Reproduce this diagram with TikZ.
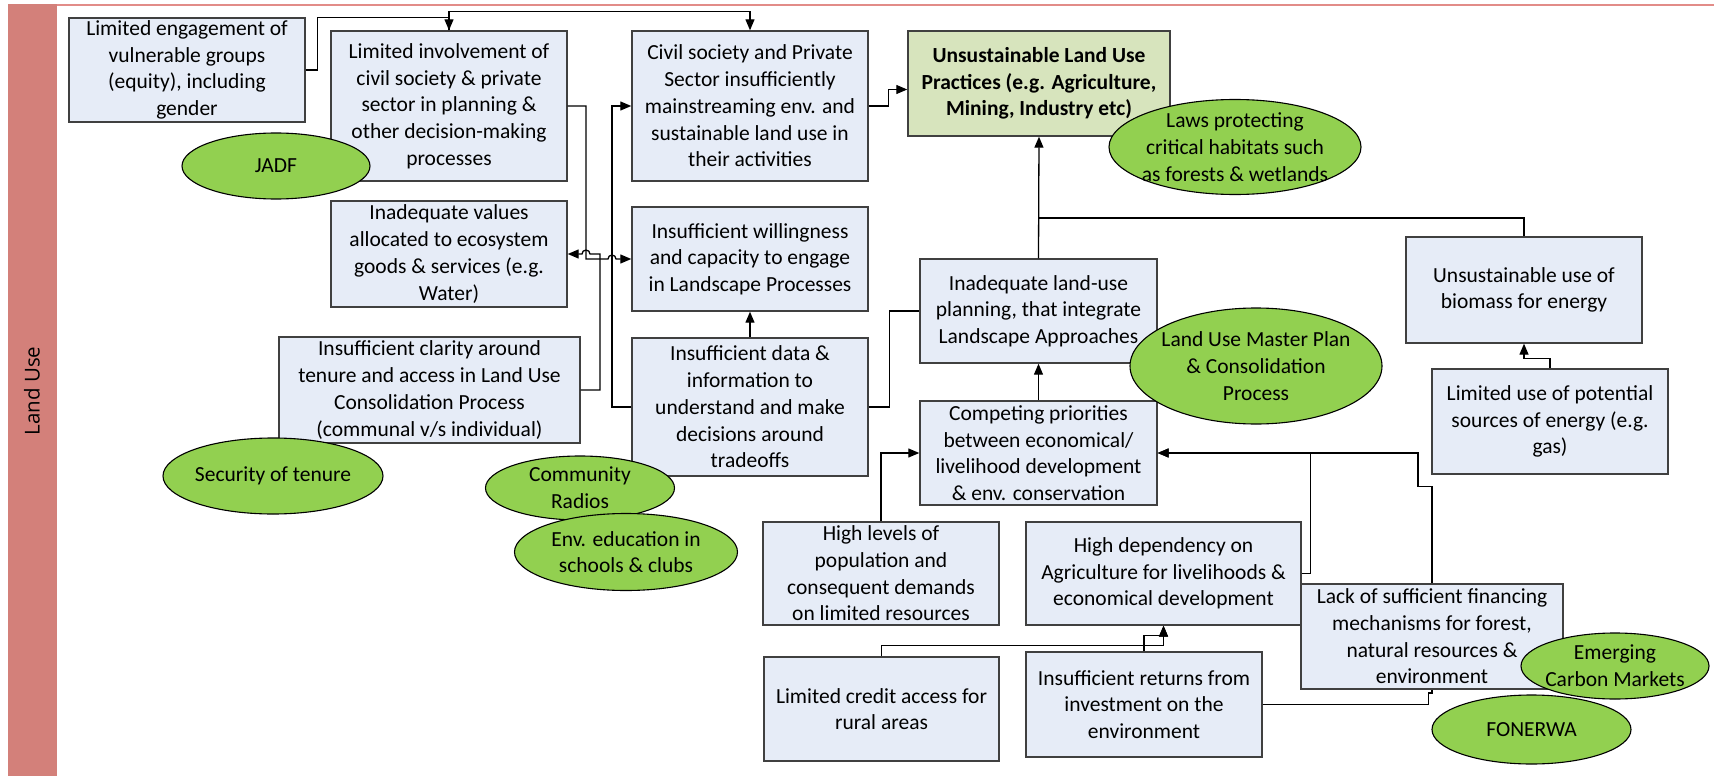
\documentclass[tikz,border=0pt]{standalone}
\usepackage{fontspec}
\setmainfont{Carlito}
\newfontfamily\bandfont{Open Sans}
\usetikzlibrary{arrows.meta,shapes.geometric}

\definecolor{boxfill}{RGB}{230,236,247}
\definecolor{boxline}{RGB}{64,64,64}
\definecolor{corefill}{RGB}{215,228,189}
\definecolor{ovalfill}{RGB}{146,208,80}
\definecolor{bandfill}{RGB}{211,128,122}
\definecolor{bandline}{RGB}{226,140,136}

\newcommand\bodysize{\fontsize{21.5}{26.7}\selectfont}

\begin{document}
\begin{tikzpicture}[x=1pt,y=-1pt,
  box/.style={rectangle, draw=boxline, line width=1.4pt, fill=boxfill, inner sep=0pt},
  core/.style={box, fill=corefill},
  oval/.style={ellipse, draw=black, line width=1.1pt, fill=ovalfill, inner sep=0pt},
  txt/.style={align=center, font=\bodysize, inner sep=0pt, text=black},
  conn/.style={draw=black, line width=1.3pt},
  arr/.style={conn, -{Triangle[length=11pt,width=9pt]}},
]
\useasboundingbox (0,0) rectangle (1714,776);
\fill[white] (0,0) rectangle (1714,776);

% swimlane band and header line
\fill[bandfill] (8,4) rectangle (57,776);
\draw[bandline, line width=1.5pt] (57,5) -- (1714,5);
\node[rotate=90, font=\bandfont\fontsize{20.5}{24}\selectfont] (lane) at (32,391) {Land Use};

% problem boxes
\node[box, minimum width=236pt, minimum height=104pt,
  label={[txt]center:Limited engagement of\\vulnerable groups\\(equity), including\\gender}] (b1) at (187,70) {};
\node[box, minimum width=236pt, minimum height=150pt,
  label={[txt]center:Limited involvement of\\civil society \& private\\sector in planning \&\\other decision-making\\processes}] (b2) at (449,106) {};
\node[box, minimum width=236pt, minimum height=106pt,
  label={[txt]center:Inadequate values\\allocated to ecosystem\\goods \& services (e.g.\\Water)}] (b3) at (449,254) {};
\node[box, minimum width=236pt, minimum height=150pt,
  label={[txt]center:Civil society and Private\\Sector insufficiently\\mainstreaming env. and\\sustainable land use in\\their activities}] (b4) at (750,106) {};
\node[core, minimum width=262pt, minimum height=105pt,
  label={[txt,font=\bodysize\bfseries]center:Unsustainable Land Use\\Practices (e.g. Agriculture,\\Mining, Industry etc)}] (main) at (1039,83.5) {};
\node[box, minimum width=236pt, minimum height=104pt,
  label={[txt]center:Insufficient willingness\\and capacity to engage\\in Landscape Processes}] (b5) at (750,259) {};
\node[box, minimum width=301pt, minimum height=106pt,
  label={[txt]center:Insufficient clarity around\\tenure and access in Land Use\\Consolidation Process\\(communal v/s individual)}] (clar) at (429.5,390) {};
\node[box, minimum width=236pt, minimum height=138pt,
  label={[txt]center:Insufficient data \&\\information to\\understand and make\\decisions around\\tradeoffs}] (data) at (750,407) {};
\node[box, minimum width=237pt, minimum height=104pt,
  label={[txt]center:Inadequate land-use\\planning, that integrate\\Landscape Approaches}] (lup) at (1038.5,311) {};
\node[box, minimum width=237pt, minimum height=104pt,
  label={[txt]center:Competing priorities\\between economical/\\livelihood development\\\& env. conservation}] (comp) at (1038.5,453) {};
\node[box, minimum width=236pt, minimum height=106pt,
  label={[txt]center:Unsustainable use of\\biomass for energy}] (bio) at (1524,290) {};
\node[box, minimum width=236pt, minimum height=105pt,
  label={[txt]center:Limited use of potential\\sources of energy (e.g.\\gas)}] (pot) at (1550,421.5) {};
\node[box, minimum width=236pt, minimum height=103pt,
  label={[txt]center:High levels of\\population and\\consequent demands\\on limited resources}] (pop) at (881,573.5) {};
\node[box, minimum width=275pt, minimum height=103pt,
  label={[txt]center:High dependency on\\Agriculture for livelihoods \&\\economical development}] (hdep) at (1163.5,573.5) {};
\node[box, minimum width=235pt, minimum height=104pt,
  label={[txt]center:Limited credit access for\\rural areas}] (cred) at (881.5,709) {};
\node[box, minimum width=236pt, minimum height=105pt,
  label={[txt]center:Insufficient returns from\\investment on the\\environment}] (ret) at (1144,704.5) {};
\node[box, minimum width=262pt, minimum height=105pt,
  label={[txt]center:Lack of sufficient financing\\mechanisms for forest,\\natural resources \&\\environment}] (lack) at (1432,636.5) {};

% connectors
\draw[arr] (b1.east) -- ++(12,0) |- ([yshift=13pt]b2.north) -- (b2.north);
\draw[arr] (b2.north) -- ++(0,-19) -| (b4.north);
\draw[arr] (b4.east) -- ++(20,0) |- ([yshift=-6pt]main.west);
\draw[arr] (b2.east) -| (586,259) -- (608,259) arc(180:360:4) -- (b5.west);
\draw[arr] (clar.east) -| (600,254) -- (590,254) arc(0:-180:4) -- (b3.east);
\draw[arr] (data.west) -- (612,407) |- (b4.west);
\draw[arr] (data.north) -- (b5.south);
\draw[conn] (data.east) -- ++(21,0) |- (lup.west);
\draw[arr] (lup.north) -- (main.south);
\draw[conn] (bio.north) |- (main.south |- 0,218);
\draw[arr] (comp.north) -- (lup.south);
\draw[arr] (pot.north) -- ++(0,-10) -| (bio.south);
\draw[arr] (pop.north) |- (comp.west);
\draw[arr] (hdep.east) -- ++(9,0) |- (comp.east);
\draw[arr] (lack.north) -- ++(0,-97) -- ++(-14,0) |- (comp.east);
\draw[arr] (cred.north) -- ++(0,-11) -| (hdep.south);
\draw[arr] (ret.north) -- ++(0,-16) -| (hdep.south);
\draw[conn] (ret.east) -- ++(166,0) -- ++(0,-11.5) -| (lack.south);

% responses
\node[oval, minimum width=188pt, minimum height=66pt,
  label={[txt]center:JADF}] (jadf) at (276,166) {};
\node[oval, minimum width=252pt, minimum height=95pt,
  label={[txt]center:Laws protecting\\critical habitats such\\as forests \& wetlands}] (laws) at (1235,147) {};
\node[oval, minimum width=252pt, minimum height=116pt,
  label={[txt]center:Land Use Master Plan\\\& Consolidation\\Process}] (lump) at (1256,366) {};
\node[oval, minimum width=220pt, minimum height=76pt,
  label={[txt]center:Security of tenure}] (tenure) at (273,476) {};
\node[oval, minimum width=189pt, minimum height=64pt,
  label={[txt]center:Community\\Radios}] (radio) at (580,488) {};
\node[oval, minimum width=223pt, minimum height=77pt,
  label={[txt]center:Env. education in\\schools \& clubs}] (edu) at (626,552) {};
\node[oval, minimum width=199pt, minimum height=69pt,
  label={[txt]center:FONERWA}] (fon) at (1531.5,729.5) {};
\node[oval, minimum width=188pt, minimum height=66pt,
  label={[txt]center:Emerging\\Carbon Markets}] (carbon) at (1615,666) {};
\end{tikzpicture}
\end{document}
